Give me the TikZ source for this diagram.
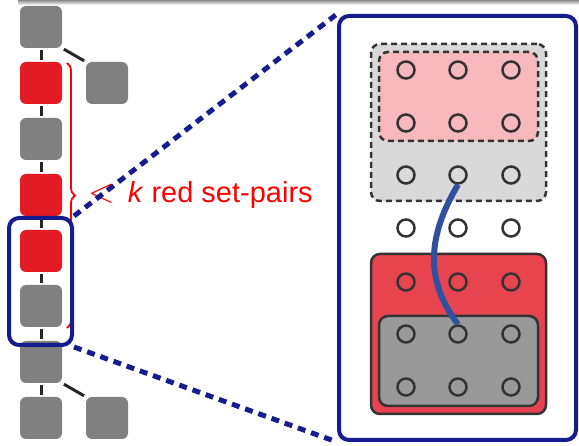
\documentclass[tikz,border=0pt]{standalone}
\usepackage{fontspec}
\setmainfont{Liberation Sans}
\usetikzlibrary{decorations.pathreplacing}

\definecolor{setred}{HTML}{E31B24}
\definecolor{setgray}{HTML}{808080}
\definecolor{zoomblue}{HTML}{161B8E}
\definecolor{linkblue}{HTML}{3050A0}
\definecolor{dotgray}{HTML}{333333}
\definecolor{pairred}{HTML}{E84450}
\definecolor{pairpink}{HTML}{F7B8BE}
\definecolor{paleback}{HTML}{D9D9D9}
\definecolor{darkback}{HTML}{999999}

\tikzset{
  setnode/.style={minimum size=42pt, inner sep=0pt, rounded corners=6pt},
  redset/.style={setnode, fill=setred},
  grayset/.style={setnode, fill=setgray},
  chainlink/.style={draw=black!85, line width=3pt, shorten <=2pt, shorten >=2pt},
  zoombox/.style={draw=zoomblue, line width=4pt, rounded corners=10pt, inner sep=0pt},
  zoomline/.style={draw=zoomblue, line width=5pt, dash pattern=on 8pt off 6pt},
  elem/.style={circle, draw=dotgray, line width=2.5pt, minimum size=17pt, inner sep=0pt},
  pairbox/.style={draw=dotgray, line width=2.5pt, rounded corners=9pt, inner sep=0pt},
  loosebox/.style={pairbox, dash pattern=on 6pt off 4pt},
}

\begin{document}
\begin{tikzpicture}[x=1pt, y=-1pt]
	\useasboundingbox (0,0) rectangle (579,446);
	\shade[top color=black!45, bottom color=white] (18,0) rectangle (579,5);

	% chain of sets
	\node[grayset] (s1) at (41,27) {};
	\node[redset] (s2) at (41,83) {};
	\node[grayset] (s3) at (41,139) {};
	\node[redset] (s4) at (41,195) {};
	\node[redset] (s5) at (41,251) {};
	\node[grayset] (s6) at (41,306) {};
	\node[grayset] (s7) at (41,362) {};
	\node[grayset] (s8) at (41,418) {};
	\node[grayset] (t1) at (107,83) {};
	\node[grayset] (t2) at (107,418) {};

	\draw[chainlink] (s1) -- (s2);
	\draw[chainlink] (s2) -- (s3);
	\draw[chainlink] (s3) -- (s4);
	\draw[chainlink] (s4) -- (s5);
	\draw[chainlink] (s5) -- (s6);
	\draw[chainlink] (s6) -- (s7);
	\draw[chainlink] (s7) -- (s8);
	\draw[chainlink] (s1.south east) -- (t1.north west);
	\draw[chainlink] (s7.south east) -- (t2.north west);

	% brace and label
	\coordinate (bracetop) at (67,63);
	\coordinate (bracebot) at (67,328);
	\draw[red, line width=1.8pt, decorate, decoration={brace, amplitude=8pt}]
		(bracetop) -- (bracebot);
	\node[anchor=base west, inner sep=0pt, text=red, font=\fontsize{29}{34}\selectfont]
		(pairlabel) at (88,203) {\scalebox{1.4}{$<$}\hspace{5pt} \textit{k} red set-pairs};

	% zoom boxes
	\node[zoombox, minimum width=63pt, minimum height=127pt] (zoomsmall) at (40.5,281.5) {};
	\node[zoombox, minimum width=237pt, minimum height=424pt] (zoombig) at (457.5,228) {};
	\draw[zoomline] (zoomsmall.north east) -- (zoombig.north west);
	\draw[zoomline] (zoomsmall.south east) -- (zoombig.south west);

	% set-pair boxes
	\node[loosebox, fill=paleback, minimum width=175pt, minimum height=157pt] (upper) at (458.5,122.5) {};
	\node[loosebox, fill=pairpink, minimum width=159pt, minimum height=89pt] (upperin) at (458.5,96.5) {};
	\node[pairbox, fill=pairred, minimum width=175pt, minimum height=160pt] (lower) at (458.5,334) {};
	\node[pairbox, fill=darkback, minimum width=159pt, minimum height=90pt] (lowerin) at (458.5,361) {};

	% elements
	\node[elem] (e11) at (406,70) {}; \node[elem] (e12) at (458,70) {}; \node[elem] (e13) at (511,70) {};
	\node[elem] (e21) at (406,123) {}; \node[elem] (e22) at (458,123) {}; \node[elem] (e23) at (511,123) {};
	\node[elem] (e31) at (406,175) {}; \node[elem] (e32) at (458,175) {}; \node[elem] (e33) at (511,175) {};
	\node[elem] (e41) at (406,228) {}; \node[elem] (e42) at (458,228) {}; \node[elem] (e43) at (511,228) {};
	\node[elem] (e51) at (406,282) {}; \node[elem] (e52) at (458,282) {}; \node[elem] (e53) at (511,282) {};
	\node[elem] (e61) at (406,334) {}; \node[elem] (e62) at (458,334) {}; \node[elem] (e63) at (511,334) {};
	\node[elem] (e71) at (406,387) {}; \node[elem] (e72) at (458,387) {}; \node[elem] (e73) at (511,387) {};

	% link between the two pairs
	\draw[linkblue, line width=6pt] (e32.south) .. controls (428,235) and (424,280) .. (e62.north);
\end{tikzpicture}
\end{document}
